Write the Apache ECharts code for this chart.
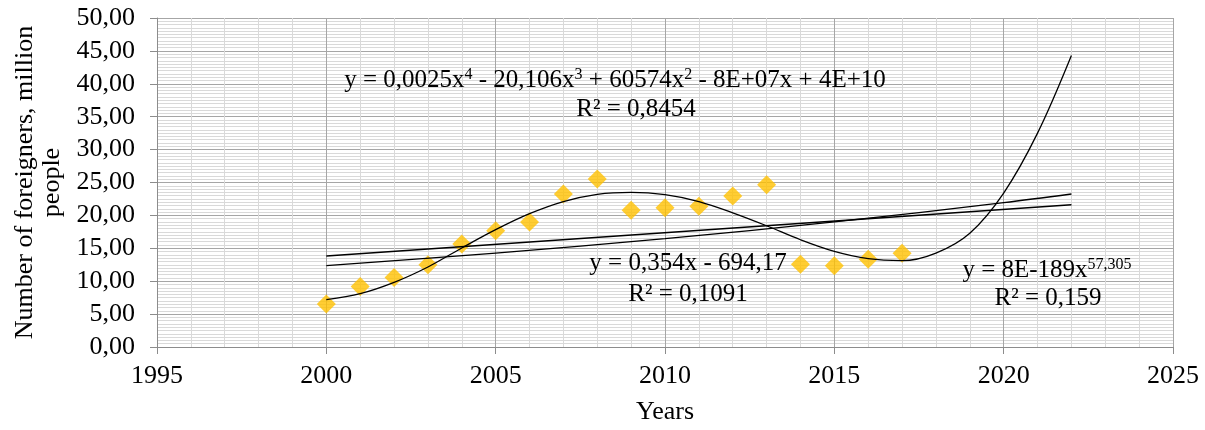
<!DOCTYPE html>
<html>
<head>
<meta charset="utf-8">
<script src="https://cdn.jsdelivr.net/npm/echarts@6/dist/echarts.min.js"></script>
<style>html,body{margin:0;padding:0;background:#fff}#c{width:1205px;height:430px}</style>
</head>
<body>
<div id="c"></div>
<script>
// Observed data
const years = [2000,2001,2002,2003,2004,2005,2006,2007,2008,2009,2010,2011,2012,2013,2014,2015,2016,2017];
const foreigners = [6.53,9.21,10.58,12.50,15.65,17.67,19.00,23.25,25.53,20.77,21.17,21.38,22.95,24.67,12.56,12.36,13.32,14.23];

// Trend lines
const polyYears = [2000,2001,2002,2003,2004,2005,2006,2007,2008,2009,2010,2011,2012,2013,2014,2015,2016,2017,2018,2019,2020,2021,2022];
const polyTrend = [7.19,8.10,9.82,12.16,15.05,17.83,20.26,22.10,23.20,23.50,23.15,22.10,20.40,18.43,16.30,14.53,13.42,13.12,14.28,17.30,23.40,32.50,44.30];
const linYears = [2000,2022];
const linTrend = [13.83,21.62];
const powYears = [2000,2005,2010,2015,2020,2022];
const powTrend = [12.36,14.27,16.47,19.01,21.94,23.25];

const xTicks = {min:1995, max:2025, step:5};
const yTicks = {min:0, max:50, step:5};

const pair = (xs, ys) => xs.map((x,i)=>[x, ys[i]]);
const FONT = '"Liberation Serif","Times New Roman",serif';
const chart = echarts.init(document.getElementById('c'));
const L = {left:157, top:18, right:32, bottom:83};

chart.setOption({
  animation:false,
  backgroundColor:'#fff',
  textStyle:{fontFamily:FONT},
  grid:{left:L.left, top:L.top, right:L.right, bottom:L.bottom, containLabel:false},
  xAxis:{
    type:'value', min:xTicks.min, max:xTicks.max, interval:xTicks.step,
    name:'Years', nameLocation:'middle', nameGap:52,
    nameTextStyle:{fontFamily:FONT, fontSize:26, color:'#000'},
    axisLine:{show:true, lineStyle:{color:'#8c8c8c', width:1}},
    axisTick:{show:true, length:7, lineStyle:{color:'#8c8c8c'}},
    axisLabel:{fontFamily:FONT, fontSize:26, color:'#000', margin:16, formatter:v=>String(v)},
    splitLine:{show:true, lineStyle:{color:'#a6a6a6', width:1}},
    minorTick:{show:false, splitNumber:5},
    minorSplitLine:{show:true, lineStyle:{color:'#d9d9d9', width:1}}
  },
  yAxis:{
    type:'value', min:yTicks.min, max:yTicks.max, interval:yTicks.step,
    name:'Number of foreigners, million\npeople', nameLocation:'middle', nameGap:90,
    nameTextStyle:{fontFamily:FONT, fontSize:26, color:'#000', lineHeight:27, align:'center'},
    axisLine:{show:true, lineStyle:{color:'#8c8c8c', width:1}},
    axisTick:{show:true, length:7, lineStyle:{color:'#8c8c8c'}},
    axisLabel:{fontFamily:FONT, fontSize:26, color:'#000', margin:22,
      formatter:v=>v.toFixed(2).replace('.',',')},
    splitLine:{show:true, lineStyle:{color:'#a6a6a6', width:1}},
    minorTick:{show:false, splitNumber:10},
    minorSplitLine:{show:true, lineStyle:{color:'#d9d9d9', width:1}}
  },
  series:[
    {type:'scatter', data:pair(years, foreigners), symbol:'diamond', symbolSize:19,
     itemStyle:{color:'#FFC000'}, z:2},
    {type:'line', data:pair(polyYears, polyTrend), smooth:0.35, showSymbol:false,
     lineStyle:{color:'#000', width:1.3}, z:3},
    {type:'line', data:pair(linYears, linTrend), showSymbol:false,
     lineStyle:{color:'#000', width:1.3}, z:3},
    {type:'line', data:pair(powYears, powTrend), smooth:0.35, showSymbol:false,
     lineStyle:{color:'#000', width:1.3}, z:3}
  ],
  graphic:[
    {type:'text', x:615, y:80, z:10, style:{
      text:'y = 0,0025x{s|4} - 20,106x{s|3} + 60574x{s|2} - 8E+07x + 4E+10',
      rich:{s:{fontFamily:FONT, fontSize:16, verticalAlign:'top', lineHeight:26}},
      fontFamily:FONT, fontSize:25, fill:'#000', align:'center', verticalAlign:'middle'}},
    {type:'text', x:636, y:109, z:10, style:{text:'R² = 0,8454',
      fontFamily:FONT, fontSize:25, fill:'#000', align:'center', verticalAlign:'middle'}},
    {type:'text', x:688, y:263, z:10, style:{text:'y = 0,354x - 694,17',
      fontFamily:FONT, fontSize:25, fill:'#000', align:'center', verticalAlign:'middle'}},
    {type:'text', x:688, y:294, z:10, style:{text:'R² = 0,1091',
      fontFamily:FONT, fontSize:25, fill:'#000', align:'center', verticalAlign:'middle'}},
    {type:'text', x:1047, y:270, z:10, style:{
      text:'y = 8E-189x{s|57,305}',
      rich:{s:{fontFamily:FONT, fontSize:16, verticalAlign:'top', lineHeight:26}},
      fontFamily:FONT, fontSize:25, fill:'#000', align:'center', verticalAlign:'middle'}},
    {type:'text', x:1048, y:298, z:10, style:{text:'R² = 0,159',
      fontFamily:FONT, fontSize:25, fill:'#000', align:'center', verticalAlign:'middle'}}
  ]
});
</script>
</body>
</html>
